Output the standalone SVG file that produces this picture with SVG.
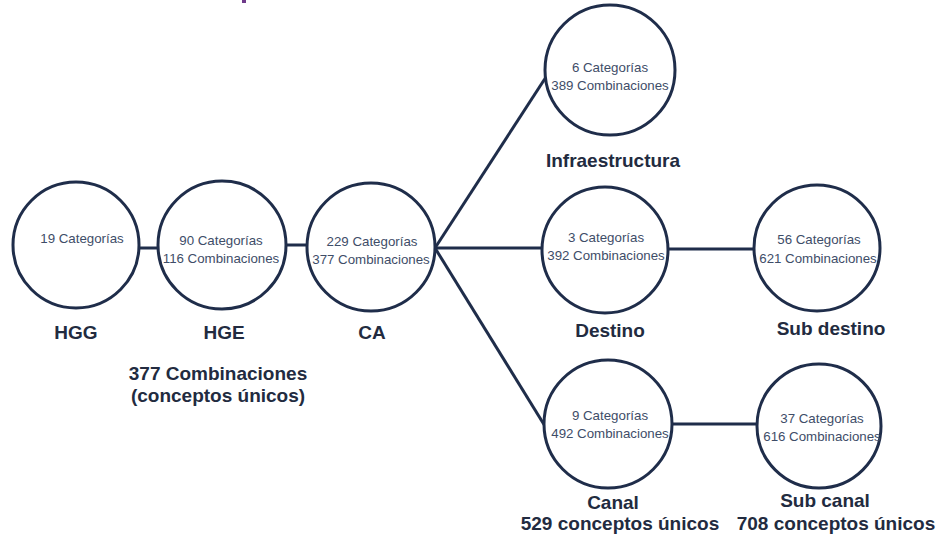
<svg xmlns="http://www.w3.org/2000/svg" width="938" height="535" viewBox="0 0 938 535">
<style>
  .node circle { fill: #ffffff; stroke: #1f2d4a; stroke-width: 3; }
  .in { font-family: "Liberation Sans", Arial, sans-serif; font-size: 13.3px; fill: #3e4d68; text-anchor: middle; }
  .lbl { font-family: "Liberation Sans", Arial, sans-serif; font-size: 19px; font-weight: bold; fill: #222b40; text-anchor: middle; }
  #connectors line { stroke: #1f2d4a; stroke-width: 3; }
</style>
<rect x="0" y="0" width="938" height="535" fill="#ffffff"/>
<rect x="242" y="0" width="4" height="3" fill="#6f3a8a"/>
<g id="connectors">
  <line x1="138" y1="248" x2="159" y2="248"/>
  <line x1="286" y1="245" x2="308" y2="245"/>
  <line x1="435" y1="248" x2="546" y2="77"/>
  <line x1="435" y1="248" x2="543" y2="248"/>
  <line x1="435" y1="248" x2="548" y2="431"/>
  <line x1="667" y1="249" x2="755" y2="249"/>
  <line x1="671" y1="424" x2="758" y2="424"/>
</g>
<g id="HGG" class="node">
  <circle cx="76" cy="245" r="63"/>
  <text class="in" x="82" y="243">19 Categorías</text>
  <text class="lbl" x="76" y="339">HGG</text>
</g>
<g id="HGE" class="node">
  <circle cx="222" cy="245" r="64"/>
  <text class="in" x="221" y="245">90 Categorías</text>
  <text class="in" x="221" y="263">116 Combinaciones</text>
  <text class="lbl" x="224" y="339">HGE</text>
</g>
<g id="CA" class="node">
  <circle cx="371" cy="247" r="64"/>
  <text class="in" x="372" y="246">229 Categorías</text>
  <text class="in" x="371" y="264">377 Combinaciones</text>
  <text class="lbl" x="372" y="339">CA</text>
</g>
<g id="resumen">
  <text class="lbl" x="218" y="380">377 Combinaciones</text>
  <text class="lbl" x="218" y="402">(conceptos únicos)</text>
</g>
<g id="Infraestructura" class="node">
  <circle cx="610" cy="70" r="65"/>
  <text class="in" x="610" y="72">6 Categorías</text>
  <text class="in" x="610" y="90">389 Combinaciones</text>
  <text class="lbl" x="613" y="167">Infraestructura</text>
</g>
<g id="Destino" class="node">
  <circle cx="605" cy="250" r="63"/>
  <text class="in" x="606" y="242">3 Categorías</text>
  <text class="in" x="606" y="260">392 Combinaciones</text>
  <text class="lbl" x="610" y="337">Destino</text>
</g>
<g id="SubDestino" class="node">
  <circle cx="817" cy="248" r="63"/>
  <text class="in" x="819" y="244">56 Categorías</text>
  <text class="in" x="818" y="263">621 Combinaciones</text>
  <text class="lbl" x="831" y="335">Sub destino</text>
</g>
<g id="Canal" class="node">
  <circle cx="608" cy="424" r="64"/>
  <text class="in" x="610" y="420">9 Categorías</text>
  <text class="in" x="610" y="438">492 Combinaciones</text>
  <text class="lbl" x="613" y="509">Canal</text>
  <text class="lbl" x="620" y="530">529 conceptos únicos</text>
</g>
<g id="SubCanal" class="node">
  <circle cx="819" cy="426" r="62"/>
  <text class="in" x="822" y="423">37 Categorías</text>
  <text class="in" x="822" y="441">616 Combinaciones</text>
  <text class="lbl" x="825" y="507">Sub canal</text>
  <text class="lbl" x="836" y="530">708 conceptos únicos</text>
</g>
</svg>
